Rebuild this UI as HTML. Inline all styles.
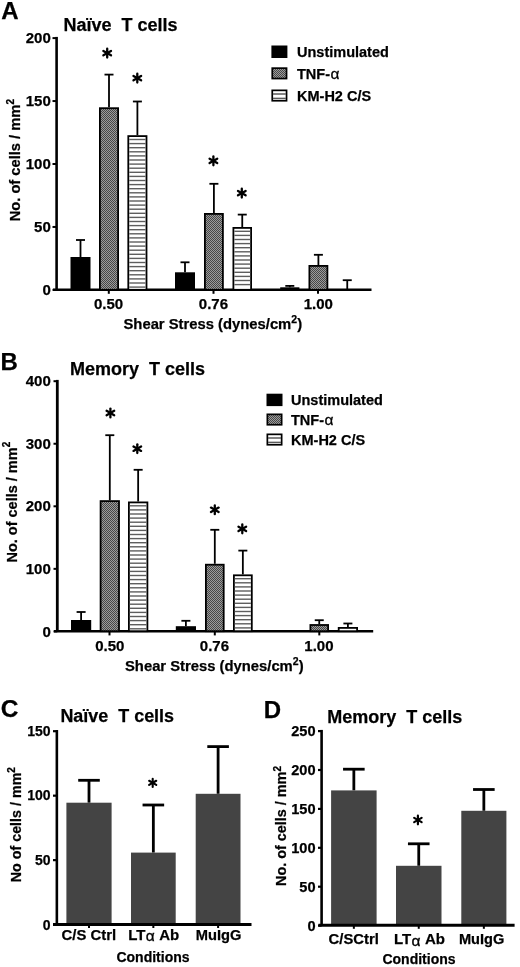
<!DOCTYPE html>
<html><head><meta charset="utf-8"><style>
html,body{margin:0;padding:0;background:#fff;width:520px;height:967px;overflow:hidden;}
body{position:relative;font-family:"Liberation Sans", sans-serif;}
</style></head><body>
<svg width="520" height="967" viewBox="0 0 520 967" style="position:absolute;left:0;top:0;filter:blur(0.3px)">
<defs>
<pattern id="hatch" patternUnits="userSpaceOnUse" width="2" height="2"><rect width="2" height="2" fill="#9c9c9c"/><rect width="1" height="1" fill="#474747"/><rect x="1" y="1" width="1" height="1" fill="#474747"/></pattern>
<pattern id="hatchL" patternUnits="userSpaceOnUse" width="2" height="2"><rect width="2" height="2" fill="#9c9c9c"/><rect width="1" height="1" fill="#474747"/><rect x="1" y="1" width="1" height="1" fill="#474747"/></pattern>
<pattern id="stripe" patternUnits="userSpaceOnUse" width="4" height="4.1" y="0.9"><rect width="4" height="4.1" fill="#fff"/><rect y="2.7" width="4" height="1.3" fill="#666"/></pattern>
<pattern id="stripeL" patternUnits="userSpaceOnUse" width="4" height="4" y="1"><rect width="4" height="4" fill="#fff"/><rect y="2.5" width="4" height="1.5" fill="#5a5a5a"/></pattern>
</defs>
<g font-family='"Liberation Sans", sans-serif' fill="#000">
<style>text{stroke:#000;stroke-width:0.25;stroke-linejoin:round}</style>
<text x="1.3" y="19" font-size="24" font-weight="bold" text-anchor="start" >A</text>
<text x="63.5" y="30.5" font-size="18" font-weight="bold" text-anchor="start" >Na&#239;ve&#160; T cells</text>
<line x1="56.6" y1="36.9" x2="56.6" y2="289.8" stroke="#000" stroke-width="2.6" stroke-linecap="butt"/>
<line x1="52.5" y1="289.9" x2="56.6" y2="289.9" stroke="#000" stroke-width="2" stroke-linecap="butt"/>
<text x="50.8" y="295.1" font-size="15" font-weight="bold" text-anchor="end" >0</text>
<line x1="52.5" y1="226.95" x2="56.6" y2="226.95" stroke="#000" stroke-width="2" stroke-linecap="butt"/>
<text x="50.8" y="232.02500000000003" font-size="15" font-weight="bold" text-anchor="end" >50</text>
<line x1="52.5" y1="163.99999999999997" x2="56.6" y2="163.99999999999997" stroke="#000" stroke-width="2" stroke-linecap="butt"/>
<text x="50.8" y="168.95000000000002" font-size="15" font-weight="bold" text-anchor="end" >100</text>
<line x1="52.5" y1="101.04999999999998" x2="56.6" y2="101.04999999999998" stroke="#000" stroke-width="2" stroke-linecap="butt"/>
<text x="50.8" y="105.87499999999999" font-size="15" font-weight="bold" text-anchor="end" >150</text>
<line x1="52.5" y1="38.099999999999966" x2="56.6" y2="38.099999999999966" stroke="#000" stroke-width="2" stroke-linecap="butt"/>
<text x="50.8" y="42.8" font-size="15" font-weight="bold" text-anchor="end" >200</text>
<line x1="53" y1="289.8" x2="371.5" y2="289.8" stroke="#000" stroke-width="2.6" stroke-linecap="butt"/>
<line x1="80.5" y1="240" x2="80.5" y2="257" stroke="#000" stroke-width="1.8" stroke-linecap="butt"/>
<line x1="76.0" y1="240" x2="85.0" y2="240" stroke="#000" stroke-width="1.8" stroke-linecap="butt"/>
<rect x="70.5" y="257" width="20.0" height="32.80000000000001" fill="#000"/>
<line x1="109.0" y1="74.6" x2="109.0" y2="107.3" stroke="#000" stroke-width="1.8" stroke-linecap="butt"/>
<line x1="104.5" y1="74.6" x2="113.5" y2="74.6" stroke="#000" stroke-width="1.8" stroke-linecap="butt"/>
<rect x="99.9" y="108.2" width="18.2" height="181.6" fill="url(#hatch)" stroke="#000" stroke-width="1.8"/>
<line x1="137.4" y1="101.5" x2="137.4" y2="135.2" stroke="#000" stroke-width="1.8" stroke-linecap="butt"/>
<line x1="132.9" y1="101.5" x2="141.9" y2="101.5" stroke="#000" stroke-width="1.8" stroke-linecap="butt"/>
<rect x="128.3" y="136.1" width="18.2" height="153.70000000000002" fill="#fff" stroke="#000" stroke-width="1.8"/>
<line x1="129.20000000000002" y1="139.5" x2="145.6" y2="139.5" stroke="#5e5e5e" stroke-width="1.4" stroke-linecap="butt"/>
<line x1="129.20000000000002" y1="143.6" x2="145.6" y2="143.6" stroke="#5e5e5e" stroke-width="1.4" stroke-linecap="butt"/>
<line x1="129.20000000000002" y1="147.7" x2="145.6" y2="147.7" stroke="#5e5e5e" stroke-width="1.4" stroke-linecap="butt"/>
<line x1="129.20000000000002" y1="151.8" x2="145.6" y2="151.8" stroke="#5e5e5e" stroke-width="1.4" stroke-linecap="butt"/>
<line x1="129.20000000000002" y1="155.9" x2="145.6" y2="155.9" stroke="#5e5e5e" stroke-width="1.4" stroke-linecap="butt"/>
<line x1="129.20000000000002" y1="160.0" x2="145.6" y2="160.0" stroke="#5e5e5e" stroke-width="1.4" stroke-linecap="butt"/>
<line x1="129.20000000000002" y1="164.1" x2="145.6" y2="164.1" stroke="#5e5e5e" stroke-width="1.4" stroke-linecap="butt"/>
<line x1="129.20000000000002" y1="168.2" x2="145.6" y2="168.2" stroke="#5e5e5e" stroke-width="1.4" stroke-linecap="butt"/>
<line x1="129.20000000000002" y1="172.3" x2="145.6" y2="172.3" stroke="#5e5e5e" stroke-width="1.4" stroke-linecap="butt"/>
<line x1="129.20000000000002" y1="176.4" x2="145.6" y2="176.4" stroke="#5e5e5e" stroke-width="1.4" stroke-linecap="butt"/>
<line x1="129.20000000000002" y1="180.5" x2="145.6" y2="180.5" stroke="#5e5e5e" stroke-width="1.4" stroke-linecap="butt"/>
<line x1="129.20000000000002" y1="184.6" x2="145.6" y2="184.6" stroke="#5e5e5e" stroke-width="1.4" stroke-linecap="butt"/>
<line x1="129.20000000000002" y1="188.7" x2="145.6" y2="188.7" stroke="#5e5e5e" stroke-width="1.4" stroke-linecap="butt"/>
<line x1="129.20000000000002" y1="192.8" x2="145.6" y2="192.8" stroke="#5e5e5e" stroke-width="1.4" stroke-linecap="butt"/>
<line x1="129.20000000000002" y1="196.9" x2="145.6" y2="196.9" stroke="#5e5e5e" stroke-width="1.4" stroke-linecap="butt"/>
<line x1="129.20000000000002" y1="201.0" x2="145.6" y2="201.0" stroke="#5e5e5e" stroke-width="1.4" stroke-linecap="butt"/>
<line x1="129.20000000000002" y1="205.1" x2="145.6" y2="205.1" stroke="#5e5e5e" stroke-width="1.4" stroke-linecap="butt"/>
<line x1="129.20000000000002" y1="209.2" x2="145.6" y2="209.2" stroke="#5e5e5e" stroke-width="1.4" stroke-linecap="butt"/>
<line x1="129.20000000000002" y1="213.3" x2="145.6" y2="213.3" stroke="#5e5e5e" stroke-width="1.4" stroke-linecap="butt"/>
<line x1="129.20000000000002" y1="217.4" x2="145.6" y2="217.4" stroke="#5e5e5e" stroke-width="1.4" stroke-linecap="butt"/>
<line x1="129.20000000000002" y1="221.5" x2="145.6" y2="221.5" stroke="#5e5e5e" stroke-width="1.4" stroke-linecap="butt"/>
<line x1="129.20000000000002" y1="225.6" x2="145.6" y2="225.6" stroke="#5e5e5e" stroke-width="1.4" stroke-linecap="butt"/>
<line x1="129.20000000000002" y1="229.7" x2="145.6" y2="229.7" stroke="#5e5e5e" stroke-width="1.4" stroke-linecap="butt"/>
<line x1="129.20000000000002" y1="233.8" x2="145.6" y2="233.8" stroke="#5e5e5e" stroke-width="1.4" stroke-linecap="butt"/>
<line x1="129.20000000000002" y1="237.9" x2="145.6" y2="237.9" stroke="#5e5e5e" stroke-width="1.4" stroke-linecap="butt"/>
<line x1="129.20000000000002" y1="242.0" x2="145.6" y2="242.0" stroke="#5e5e5e" stroke-width="1.4" stroke-linecap="butt"/>
<line x1="129.20000000000002" y1="246.1" x2="145.6" y2="246.1" stroke="#5e5e5e" stroke-width="1.4" stroke-linecap="butt"/>
<line x1="129.20000000000002" y1="250.2" x2="145.6" y2="250.2" stroke="#5e5e5e" stroke-width="1.4" stroke-linecap="butt"/>
<line x1="129.20000000000002" y1="254.3" x2="145.6" y2="254.3" stroke="#5e5e5e" stroke-width="1.4" stroke-linecap="butt"/>
<line x1="129.20000000000002" y1="258.4" x2="145.6" y2="258.4" stroke="#5e5e5e" stroke-width="1.4" stroke-linecap="butt"/>
<line x1="129.20000000000002" y1="262.5" x2="145.6" y2="262.5" stroke="#5e5e5e" stroke-width="1.4" stroke-linecap="butt"/>
<line x1="129.20000000000002" y1="266.6" x2="145.6" y2="266.6" stroke="#5e5e5e" stroke-width="1.4" stroke-linecap="butt"/>
<line x1="129.20000000000002" y1="270.7" x2="145.6" y2="270.7" stroke="#5e5e5e" stroke-width="1.4" stroke-linecap="butt"/>
<line x1="129.20000000000002" y1="274.8" x2="145.6" y2="274.8" stroke="#5e5e5e" stroke-width="1.4" stroke-linecap="butt"/>
<line x1="129.20000000000002" y1="278.9" x2="145.6" y2="278.9" stroke="#5e5e5e" stroke-width="1.4" stroke-linecap="butt"/>
<line x1="129.20000000000002" y1="283.0" x2="145.6" y2="283.0" stroke="#5e5e5e" stroke-width="1.4" stroke-linecap="butt"/>
<line x1="129.20000000000002" y1="287.1" x2="145.6" y2="287.1" stroke="#5e5e5e" stroke-width="1.4" stroke-linecap="butt"/>
<line x1="185.0" y1="262.3" x2="185.0" y2="272.3" stroke="#000" stroke-width="1.8" stroke-linecap="butt"/>
<line x1="180.5" y1="262.3" x2="189.5" y2="262.3" stroke="#000" stroke-width="1.8" stroke-linecap="butt"/>
<rect x="175" y="272.3" width="20" height="17.5" fill="#000"/>
<line x1="213.9" y1="183.8" x2="213.9" y2="213" stroke="#000" stroke-width="1.8" stroke-linecap="butt"/>
<line x1="209.4" y1="183.8" x2="218.4" y2="183.8" stroke="#000" stroke-width="1.8" stroke-linecap="butt"/>
<rect x="204.9" y="213.9" width="18.00000000000001" height="75.9" fill="url(#hatch)" stroke="#000" stroke-width="1.8"/>
<line x1="242.25" y1="214.6" x2="242.25" y2="227" stroke="#000" stroke-width="1.8" stroke-linecap="butt"/>
<line x1="237.75" y1="214.6" x2="246.75" y2="214.6" stroke="#000" stroke-width="1.8" stroke-linecap="butt"/>
<rect x="233.4" y="227.9" width="17.7" height="61.90000000000001" fill="#fff" stroke="#000" stroke-width="1.8"/>
<line x1="234.3" y1="231.3" x2="250.2" y2="231.3" stroke="#5e5e5e" stroke-width="1.4" stroke-linecap="butt"/>
<line x1="234.3" y1="235.4" x2="250.2" y2="235.4" stroke="#5e5e5e" stroke-width="1.4" stroke-linecap="butt"/>
<line x1="234.3" y1="239.5" x2="250.2" y2="239.5" stroke="#5e5e5e" stroke-width="1.4" stroke-linecap="butt"/>
<line x1="234.3" y1="243.6" x2="250.2" y2="243.6" stroke="#5e5e5e" stroke-width="1.4" stroke-linecap="butt"/>
<line x1="234.3" y1="247.7" x2="250.2" y2="247.7" stroke="#5e5e5e" stroke-width="1.4" stroke-linecap="butt"/>
<line x1="234.3" y1="251.8" x2="250.2" y2="251.8" stroke="#5e5e5e" stroke-width="1.4" stroke-linecap="butt"/>
<line x1="234.3" y1="255.9" x2="250.2" y2="255.9" stroke="#5e5e5e" stroke-width="1.4" stroke-linecap="butt"/>
<line x1="234.3" y1="260.0" x2="250.2" y2="260.0" stroke="#5e5e5e" stroke-width="1.4" stroke-linecap="butt"/>
<line x1="234.3" y1="264.1" x2="250.2" y2="264.1" stroke="#5e5e5e" stroke-width="1.4" stroke-linecap="butt"/>
<line x1="234.3" y1="268.2" x2="250.2" y2="268.2" stroke="#5e5e5e" stroke-width="1.4" stroke-linecap="butt"/>
<line x1="234.3" y1="272.3" x2="250.2" y2="272.3" stroke="#5e5e5e" stroke-width="1.4" stroke-linecap="butt"/>
<line x1="234.3" y1="276.4" x2="250.2" y2="276.4" stroke="#5e5e5e" stroke-width="1.4" stroke-linecap="butt"/>
<line x1="234.3" y1="280.5" x2="250.2" y2="280.5" stroke="#5e5e5e" stroke-width="1.4" stroke-linecap="butt"/>
<line x1="234.3" y1="284.6" x2="250.2" y2="284.6" stroke="#5e5e5e" stroke-width="1.4" stroke-linecap="butt"/>
<line x1="289.79999999999995" y1="285.9" x2="289.79999999999995" y2="287.3" stroke="#000" stroke-width="1.8" stroke-linecap="butt"/>
<line x1="285.29999999999995" y1="285.9" x2="294.29999999999995" y2="285.9" stroke="#000" stroke-width="1.8" stroke-linecap="butt"/>
<rect x="280.2" y="287.3" width="19.19999999999999" height="2.5" fill="#000"/>
<line x1="318.4" y1="254.8" x2="318.4" y2="265" stroke="#000" stroke-width="1.8" stroke-linecap="butt"/>
<line x1="313.9" y1="254.8" x2="322.9" y2="254.8" stroke="#000" stroke-width="1.8" stroke-linecap="butt"/>
<rect x="309.4" y="265.9" width="18.00000000000001" height="23.900000000000013" fill="url(#hatch)" stroke="#000" stroke-width="1.8"/>
<line x1="347.25" y1="280.2" x2="347.25" y2="289.8" stroke="#000" stroke-width="1.8" stroke-linecap="butt"/>
<line x1="342.75" y1="280.2" x2="351.75" y2="280.2" stroke="#000" stroke-width="1.8" stroke-linecap="butt"/>
<line x1="108.8" y1="289.8" x2="108.8" y2="293.8" stroke="#000" stroke-width="2" stroke-linecap="butt"/>
<line x1="213.5" y1="289.8" x2="213.5" y2="293.8" stroke="#000" stroke-width="2" stroke-linecap="butt"/>
<line x1="318" y1="289.8" x2="318" y2="293.8" stroke="#000" stroke-width="2" stroke-linecap="butt"/>
<text x="108.6" y="309.2" font-size="15" font-weight="bold" text-anchor="middle" >0.50</text>
<text x="213.4" y="309.2" font-size="15" font-weight="bold" text-anchor="middle" >0.76</text>
<text x="318.3" y="309.2" font-size="15" font-weight="bold" text-anchor="middle" >1.00</text>
<text x="123.5" y="328.8" font-size="14.8" font-weight="bold" text-anchor="start" >Shear Stress (dynes/cm<tspan font-size="10.5" dy="-6">2</tspan><tspan dy="6">)</tspan></text>
<text x="0" y="0" font-size="14.7" font-weight="bold" text-anchor="middle" transform="translate(19.6,160.2) rotate(-90)">No. of cells / mm<tspan font-size="10" dy="-5.5">2</tspan></text>
<line x1="107.2" y1="48.7" x2="107.2" y2="57.5" stroke="#000" stroke-width="2.3" stroke-linecap="round"/>
<line x1="103.39" y1="50.9" x2="111.01" y2="55.3" stroke="#000" stroke-width="2.3" stroke-linecap="round"/>
<line x1="111.01" y1="50.9" x2="103.39" y2="55.3" stroke="#000" stroke-width="2.3" stroke-linecap="round"/>
<line x1="137.3" y1="73.7" x2="137.3" y2="82.5" stroke="#000" stroke-width="2.3" stroke-linecap="round"/>
<line x1="133.49" y1="75.9" x2="141.11" y2="80.3" stroke="#000" stroke-width="2.3" stroke-linecap="round"/>
<line x1="141.11" y1="75.9" x2="133.49" y2="80.3" stroke="#000" stroke-width="2.3" stroke-linecap="round"/>
<line x1="213.4" y1="156.5" x2="213.4" y2="165.3" stroke="#000" stroke-width="2.3" stroke-linecap="round"/>
<line x1="209.59" y1="158.7" x2="217.21" y2="163.1" stroke="#000" stroke-width="2.3" stroke-linecap="round"/>
<line x1="217.21" y1="158.7" x2="209.59" y2="163.1" stroke="#000" stroke-width="2.3" stroke-linecap="round"/>
<line x1="241.8" y1="188.7" x2="241.8" y2="197.5" stroke="#000" stroke-width="2.3" stroke-linecap="round"/>
<line x1="237.99" y1="190.9" x2="245.61" y2="195.3" stroke="#000" stroke-width="2.3" stroke-linecap="round"/>
<line x1="245.61" y1="190.9" x2="237.99" y2="195.3" stroke="#000" stroke-width="2.3" stroke-linecap="round"/>
<rect x="271.4" y="45.5" width="16" height="12.5" fill="#000"/>
<text x="297" y="57.2" font-size="14.5" font-weight="bold" text-anchor="start" >Unstimulated</text>
<rect x="272.25" y="68.14999999999999" width="14.3" height="10.40000000000001" fill="url(#hatch)" stroke="#000" stroke-width="1.7"/>
<text x="297" y="78.7" font-size="14.5" font-weight="bold" text-anchor="start" >TNF-<tspan font-weight="normal" font-size="15.5" stroke="#000" stroke-width="0.3" dx="0.4">&#945;</tspan></text>
<rect x="272.25" y="90.35" width="14.3" height="10.399999999999995" fill="#fff" stroke="#000" stroke-width="1.7"/>
<line x1="272.9" y1="94.0" x2="285.9" y2="94.0" stroke="#5a5a5a" stroke-width="1.5" stroke-linecap="butt"/>
<line x1="272.9" y1="98.4" x2="285.9" y2="98.4" stroke="#5a5a5a" stroke-width="1.5" stroke-linecap="butt"/>
<text x="297" y="101" font-size="14.5" font-weight="bold" text-anchor="start" >KM-H2 C/S</text>
<text x="0.5" y="370.4" font-size="24" font-weight="bold" text-anchor="start" >B</text>
<text x="70" y="374.6" font-size="18" font-weight="bold" text-anchor="start" >Memory&#160; T cells</text>
<line x1="57.3" y1="379.9" x2="57.3" y2="631.2" stroke="#000" stroke-width="2.8" stroke-linecap="butt"/>
<line x1="53.5" y1="631.4" x2="57.3" y2="631.4" stroke="#000" stroke-width="2" stroke-linecap="butt"/>
<text x="50.8" y="636.7" font-size="15" font-weight="bold" text-anchor="end" >0</text>
<line x1="53.5" y1="568.85" x2="57.3" y2="568.85" stroke="#000" stroke-width="2" stroke-linecap="butt"/>
<text x="50.8" y="574.0250000000001" font-size="15" font-weight="bold" text-anchor="end" >100</text>
<line x1="53.5" y1="506.29999999999995" x2="57.3" y2="506.29999999999995" stroke="#000" stroke-width="2" stroke-linecap="butt"/>
<text x="50.8" y="511.35" font-size="15" font-weight="bold" text-anchor="end" >200</text>
<line x1="53.5" y1="443.75" x2="57.3" y2="443.75" stroke="#000" stroke-width="2" stroke-linecap="butt"/>
<text x="50.8" y="448.675" font-size="15" font-weight="bold" text-anchor="end" >300</text>
<line x1="53.5" y1="381.2" x2="57.3" y2="381.2" stroke="#000" stroke-width="2" stroke-linecap="butt"/>
<text x="50.8" y="386.0" font-size="15" font-weight="bold" text-anchor="end" >400</text>
<line x1="54" y1="631.2" x2="373.2" y2="631.2" stroke="#000" stroke-width="2.6" stroke-linecap="butt"/>
<line x1="81.1" y1="612" x2="81.1" y2="620" stroke="#000" stroke-width="1.8" stroke-linecap="butt"/>
<line x1="76.6" y1="612" x2="85.6" y2="612" stroke="#000" stroke-width="1.8" stroke-linecap="butt"/>
<rect x="71" y="620" width="20.200000000000003" height="11.200000000000045" fill="#000"/>
<line x1="109.80000000000001" y1="435.2" x2="109.80000000000001" y2="500.2" stroke="#000" stroke-width="1.8" stroke-linecap="butt"/>
<line x1="105.30000000000001" y1="435.2" x2="114.30000000000001" y2="435.2" stroke="#000" stroke-width="1.8" stroke-linecap="butt"/>
<rect x="100.60000000000001" y="501.09999999999997" width="18.400000000000002" height="130.10000000000005" fill="url(#hatch)" stroke="#000" stroke-width="1.8"/>
<line x1="138.15" y1="469.8" x2="138.15" y2="501.5" stroke="#000" stroke-width="1.8" stroke-linecap="butt"/>
<line x1="133.65" y1="469.8" x2="142.65" y2="469.8" stroke="#000" stroke-width="1.8" stroke-linecap="butt"/>
<rect x="128.9" y="502.4" width="18.50000000000001" height="128.80000000000004" fill="#fff" stroke="#000" stroke-width="1.8"/>
<line x1="129.8" y1="505.8" x2="146.5" y2="505.8" stroke="#5e5e5e" stroke-width="1.4" stroke-linecap="butt"/>
<line x1="129.8" y1="509.9" x2="146.5" y2="509.9" stroke="#5e5e5e" stroke-width="1.4" stroke-linecap="butt"/>
<line x1="129.8" y1="514.0" x2="146.5" y2="514.0" stroke="#5e5e5e" stroke-width="1.4" stroke-linecap="butt"/>
<line x1="129.8" y1="518.1" x2="146.5" y2="518.1" stroke="#5e5e5e" stroke-width="1.4" stroke-linecap="butt"/>
<line x1="129.8" y1="522.2" x2="146.5" y2="522.2" stroke="#5e5e5e" stroke-width="1.4" stroke-linecap="butt"/>
<line x1="129.8" y1="526.3" x2="146.5" y2="526.3" stroke="#5e5e5e" stroke-width="1.4" stroke-linecap="butt"/>
<line x1="129.8" y1="530.4" x2="146.5" y2="530.4" stroke="#5e5e5e" stroke-width="1.4" stroke-linecap="butt"/>
<line x1="129.8" y1="534.5" x2="146.5" y2="534.5" stroke="#5e5e5e" stroke-width="1.4" stroke-linecap="butt"/>
<line x1="129.8" y1="538.6" x2="146.5" y2="538.6" stroke="#5e5e5e" stroke-width="1.4" stroke-linecap="butt"/>
<line x1="129.8" y1="542.7" x2="146.5" y2="542.7" stroke="#5e5e5e" stroke-width="1.4" stroke-linecap="butt"/>
<line x1="129.8" y1="546.8" x2="146.5" y2="546.8" stroke="#5e5e5e" stroke-width="1.4" stroke-linecap="butt"/>
<line x1="129.8" y1="550.9" x2="146.5" y2="550.9" stroke="#5e5e5e" stroke-width="1.4" stroke-linecap="butt"/>
<line x1="129.8" y1="555.0" x2="146.5" y2="555.0" stroke="#5e5e5e" stroke-width="1.4" stroke-linecap="butt"/>
<line x1="129.8" y1="559.1" x2="146.5" y2="559.1" stroke="#5e5e5e" stroke-width="1.4" stroke-linecap="butt"/>
<line x1="129.8" y1="563.2" x2="146.5" y2="563.2" stroke="#5e5e5e" stroke-width="1.4" stroke-linecap="butt"/>
<line x1="129.8" y1="567.3" x2="146.5" y2="567.3" stroke="#5e5e5e" stroke-width="1.4" stroke-linecap="butt"/>
<line x1="129.8" y1="571.4" x2="146.5" y2="571.4" stroke="#5e5e5e" stroke-width="1.4" stroke-linecap="butt"/>
<line x1="129.8" y1="575.5" x2="146.5" y2="575.5" stroke="#5e5e5e" stroke-width="1.4" stroke-linecap="butt"/>
<line x1="129.8" y1="579.6" x2="146.5" y2="579.6" stroke="#5e5e5e" stroke-width="1.4" stroke-linecap="butt"/>
<line x1="129.8" y1="583.7" x2="146.5" y2="583.7" stroke="#5e5e5e" stroke-width="1.4" stroke-linecap="butt"/>
<line x1="129.8" y1="587.8" x2="146.5" y2="587.8" stroke="#5e5e5e" stroke-width="1.4" stroke-linecap="butt"/>
<line x1="129.8" y1="591.9" x2="146.5" y2="591.9" stroke="#5e5e5e" stroke-width="1.4" stroke-linecap="butt"/>
<line x1="129.8" y1="596.0" x2="146.5" y2="596.0" stroke="#5e5e5e" stroke-width="1.4" stroke-linecap="butt"/>
<line x1="129.8" y1="600.1" x2="146.5" y2="600.1" stroke="#5e5e5e" stroke-width="1.4" stroke-linecap="butt"/>
<line x1="129.8" y1="604.2" x2="146.5" y2="604.2" stroke="#5e5e5e" stroke-width="1.4" stroke-linecap="butt"/>
<line x1="129.8" y1="608.3" x2="146.5" y2="608.3" stroke="#5e5e5e" stroke-width="1.4" stroke-linecap="butt"/>
<line x1="129.8" y1="612.4" x2="146.5" y2="612.4" stroke="#5e5e5e" stroke-width="1.4" stroke-linecap="butt"/>
<line x1="129.8" y1="616.5" x2="146.5" y2="616.5" stroke="#5e5e5e" stroke-width="1.4" stroke-linecap="butt"/>
<line x1="129.8" y1="620.6" x2="146.5" y2="620.6" stroke="#5e5e5e" stroke-width="1.4" stroke-linecap="butt"/>
<line x1="129.8" y1="624.7" x2="146.5" y2="624.7" stroke="#5e5e5e" stroke-width="1.4" stroke-linecap="butt"/>
<line x1="129.8" y1="628.8" x2="146.5" y2="628.8" stroke="#5e5e5e" stroke-width="1.4" stroke-linecap="butt"/>
<line x1="185.9" y1="620.8" x2="185.9" y2="626.2" stroke="#000" stroke-width="1.8" stroke-linecap="butt"/>
<line x1="181.4" y1="620.8" x2="190.4" y2="620.8" stroke="#000" stroke-width="1.8" stroke-linecap="butt"/>
<rect x="175.8" y="626.2" width="20.19999999999999" height="5.0" fill="#000"/>
<line x1="214.8" y1="529.8" x2="214.8" y2="563.8" stroke="#000" stroke-width="1.8" stroke-linecap="butt"/>
<line x1="210.3" y1="529.8" x2="219.3" y2="529.8" stroke="#000" stroke-width="1.8" stroke-linecap="butt"/>
<rect x="205.9" y="564.6999999999999" width="17.799999999999994" height="66.50000000000009" fill="url(#hatch)" stroke="#000" stroke-width="1.8"/>
<line x1="242.85" y1="550.6" x2="242.85" y2="574.4" stroke="#000" stroke-width="1.8" stroke-linecap="butt"/>
<line x1="238.35" y1="550.6" x2="247.35" y2="550.6" stroke="#000" stroke-width="1.8" stroke-linecap="butt"/>
<rect x="233.9" y="575.3" width="17.899999999999988" height="55.90000000000007" fill="#fff" stroke="#000" stroke-width="1.8"/>
<line x1="234.8" y1="578.7" x2="250.89999999999998" y2="578.7" stroke="#5e5e5e" stroke-width="1.4" stroke-linecap="butt"/>
<line x1="234.8" y1="582.8" x2="250.89999999999998" y2="582.8" stroke="#5e5e5e" stroke-width="1.4" stroke-linecap="butt"/>
<line x1="234.8" y1="586.9" x2="250.89999999999998" y2="586.9" stroke="#5e5e5e" stroke-width="1.4" stroke-linecap="butt"/>
<line x1="234.8" y1="591.0" x2="250.89999999999998" y2="591.0" stroke="#5e5e5e" stroke-width="1.4" stroke-linecap="butt"/>
<line x1="234.8" y1="595.1" x2="250.89999999999998" y2="595.1" stroke="#5e5e5e" stroke-width="1.4" stroke-linecap="butt"/>
<line x1="234.8" y1="599.2" x2="250.89999999999998" y2="599.2" stroke="#5e5e5e" stroke-width="1.4" stroke-linecap="butt"/>
<line x1="234.8" y1="603.3" x2="250.89999999999998" y2="603.3" stroke="#5e5e5e" stroke-width="1.4" stroke-linecap="butt"/>
<line x1="234.8" y1="607.4" x2="250.89999999999998" y2="607.4" stroke="#5e5e5e" stroke-width="1.4" stroke-linecap="butt"/>
<line x1="234.8" y1="611.5" x2="250.89999999999998" y2="611.5" stroke="#5e5e5e" stroke-width="1.4" stroke-linecap="butt"/>
<line x1="234.8" y1="615.6" x2="250.89999999999998" y2="615.6" stroke="#5e5e5e" stroke-width="1.4" stroke-linecap="butt"/>
<line x1="234.8" y1="619.7" x2="250.89999999999998" y2="619.7" stroke="#5e5e5e" stroke-width="1.4" stroke-linecap="butt"/>
<line x1="234.8" y1="623.8" x2="250.89999999999998" y2="623.8" stroke="#5e5e5e" stroke-width="1.4" stroke-linecap="butt"/>
<line x1="234.8" y1="627.9" x2="250.89999999999998" y2="627.9" stroke="#5e5e5e" stroke-width="1.4" stroke-linecap="butt"/>
<line x1="319.25" y1="620.2" x2="319.25" y2="624.1" stroke="#000" stroke-width="1.8" stroke-linecap="butt"/>
<line x1="314.75" y1="620.2" x2="323.75" y2="620.2" stroke="#000" stroke-width="1.8" stroke-linecap="butt"/>
<rect x="310.4" y="625.0" width="17.7" height="6.200000000000022" fill="url(#hatch)" stroke="#000" stroke-width="1.8"/>
<line x1="347.9" y1="623.5" x2="347.9" y2="627" stroke="#000" stroke-width="1.8" stroke-linecap="butt"/>
<line x1="343.4" y1="623.5" x2="352.4" y2="623.5" stroke="#000" stroke-width="1.8" stroke-linecap="butt"/>
<rect x="338.7" y="627.9" width="18.399999999999988" height="3.3000000000000456" fill="#fff" stroke="#000" stroke-width="1.8"/>
<line x1="109.5" y1="631.2" x2="109.5" y2="635.4000000000001" stroke="#000" stroke-width="2" stroke-linecap="butt"/>
<line x1="214.8" y1="631.2" x2="214.8" y2="635.4000000000001" stroke="#000" stroke-width="2" stroke-linecap="butt"/>
<line x1="319.3" y1="631.2" x2="319.3" y2="635.4000000000001" stroke="#000" stroke-width="2" stroke-linecap="butt"/>
<text x="109.8" y="650.8" font-size="15" font-weight="bold" text-anchor="middle" >0.50</text>
<text x="214.4" y="650.8" font-size="15" font-weight="bold" text-anchor="middle" >0.76</text>
<text x="318.9" y="650.8" font-size="15" font-weight="bold" text-anchor="middle" >1.00</text>
<text x="125" y="670.9" font-size="14.8" font-weight="bold" text-anchor="start" >Shear Stress (dynes/cm<tspan font-size="10.5" dy="-6">2</tspan><tspan dy="6">)</tspan></text>
<text x="0" y="0" font-size="14.5" font-weight="bold" text-anchor="middle" transform="translate(16.9,502.2) rotate(-90)">No. of cells / mm<tspan font-size="10" dy="-6.5">2</tspan></text>
<line x1="110.4" y1="408.6" x2="110.4" y2="417.4" stroke="#000" stroke-width="2.3" stroke-linecap="round"/>
<line x1="106.59" y1="410.8" x2="114.21" y2="415.2" stroke="#000" stroke-width="2.3" stroke-linecap="round"/>
<line x1="114.21" y1="410.8" x2="106.59" y2="415.2" stroke="#000" stroke-width="2.3" stroke-linecap="round"/>
<line x1="137.3" y1="444.3" x2="137.3" y2="453.1" stroke="#000" stroke-width="2.3" stroke-linecap="round"/>
<line x1="133.49" y1="446.5" x2="141.11" y2="450.9" stroke="#000" stroke-width="2.3" stroke-linecap="round"/>
<line x1="141.11" y1="446.5" x2="133.49" y2="450.9" stroke="#000" stroke-width="2.3" stroke-linecap="round"/>
<line x1="214.8" y1="505.4" x2="214.8" y2="514.2" stroke="#000" stroke-width="2.3" stroke-linecap="round"/>
<line x1="210.99" y1="507.6" x2="218.61" y2="512.0" stroke="#000" stroke-width="2.3" stroke-linecap="round"/>
<line x1="218.61" y1="507.6" x2="210.99" y2="512.0" stroke="#000" stroke-width="2.3" stroke-linecap="round"/>
<line x1="242.3" y1="524.5" x2="242.3" y2="533.3" stroke="#000" stroke-width="2.3" stroke-linecap="round"/>
<line x1="238.49" y1="526.7" x2="246.11" y2="531.1" stroke="#000" stroke-width="2.3" stroke-linecap="round"/>
<line x1="246.11" y1="526.7" x2="238.49" y2="531.1" stroke="#000" stroke-width="2.3" stroke-linecap="round"/>
<rect x="266.5" y="393.7" width="16" height="12.400000000000034" fill="#000"/>
<text x="291" y="405.2" font-size="14.5" font-weight="bold" text-anchor="start" >Unstimulated</text>
<rect x="267.35" y="414.35" width="14.3" height="10.400000000000023" fill="url(#hatch)" stroke="#000" stroke-width="1.7"/>
<text x="291" y="425.1" font-size="14.5" font-weight="bold" text-anchor="start" >TNF-<tspan font-weight="normal" font-size="15.5" stroke="#000" stroke-width="0.3" dx="0.4">&#945;</tspan></text>
<rect x="267.35" y="434.35" width="14.3" height="10.400000000000023" fill="#fff" stroke="#000" stroke-width="1.7"/>
<line x1="268.0" y1="438.0" x2="281.0" y2="438.0" stroke="#5a5a5a" stroke-width="1.5" stroke-linecap="butt"/>
<line x1="268.0" y1="442.4" x2="281.0" y2="442.4" stroke="#5a5a5a" stroke-width="1.5" stroke-linecap="butt"/>
<text x="291" y="444.9" font-size="14.5" font-weight="bold" text-anchor="start" >KM-H2 C/S</text>
<text x="0.8" y="717.4" font-size="24.5" font-weight="bold" text-anchor="start" >C</text>
<text x="60.4" y="721.5" font-size="17.95" font-weight="bold" text-anchor="start" >Na&#239;ve&#160; T cells</text>
<line x1="56.85" y1="730.0" x2="56.85" y2="924.5" stroke="#000" stroke-width="2.6" stroke-linecap="butt"/>
<line x1="53" y1="924.6" x2="56.85" y2="924.6" stroke="#000" stroke-width="2.2" stroke-linecap="butt"/>
<text x="50.5" y="929.5" font-size="14" font-weight="bold" text-anchor="end" >0</text>
<line x1="53" y1="860.1333333333333" x2="56.85" y2="860.1333333333333" stroke="#000" stroke-width="2.2" stroke-linecap="butt"/>
<text x="50.5" y="864.8333333333334" font-size="14" font-weight="bold" text-anchor="end" >50</text>
<line x1="53" y1="795.6666666666667" x2="56.85" y2="795.6666666666667" stroke="#000" stroke-width="2.2" stroke-linecap="butt"/>
<text x="50.5" y="800.1666666666667" font-size="14" font-weight="bold" text-anchor="end" >100</text>
<line x1="53" y1="731.2" x2="56.85" y2="731.2" stroke="#000" stroke-width="2.2" stroke-linecap="butt"/>
<text x="50.5" y="735.5" font-size="14" font-weight="bold" text-anchor="end" >150</text>
<line x1="89.0" y1="780.3" x2="89.0" y2="802.7" stroke="#000" stroke-width="2.8" stroke-linecap="butt"/>
<line x1="78.2" y1="780.3" x2="99.8" y2="780.3" stroke="#000" stroke-width="2.8" stroke-linecap="butt"/>
<rect x="66.4" y="802.7" width="45.19999999999999" height="121.79999999999995" fill="#444"/>
<line x1="89.0" y1="924.5" x2="89.0" y2="928.0" stroke="#000" stroke-width="2" stroke-linecap="butt"/>
<line x1="153.35" y1="805" x2="153.35" y2="852.6" stroke="#000" stroke-width="2.8" stroke-linecap="butt"/>
<line x1="142.54999999999998" y1="805" x2="164.15" y2="805" stroke="#000" stroke-width="2.8" stroke-linecap="butt"/>
<rect x="131" y="852.6" width="44.69999999999999" height="71.89999999999998" fill="#444"/>
<line x1="153.35" y1="924.5" x2="153.35" y2="928.0" stroke="#000" stroke-width="2" stroke-linecap="butt"/>
<line x1="218.1" y1="746.6" x2="218.1" y2="793.8" stroke="#000" stroke-width="2.8" stroke-linecap="butt"/>
<line x1="207.29999999999998" y1="746.6" x2="228.9" y2="746.6" stroke="#000" stroke-width="2.8" stroke-linecap="butt"/>
<rect x="195.7" y="793.8" width="44.80000000000001" height="130.70000000000005" fill="#444"/>
<line x1="218.1" y1="924.5" x2="218.1" y2="928.0" stroke="#000" stroke-width="2" stroke-linecap="butt"/>
<line x1="53" y1="924.5" x2="251.5" y2="924.5" stroke="#000" stroke-width="3" stroke-linecap="butt"/>
<line x1="152.7" y1="778.7" x2="152.7" y2="786.9" stroke="#000" stroke-width="2.1" stroke-linecap="round"/>
<line x1="149.15" y1="780.75" x2="156.25" y2="784.85" stroke="#000" stroke-width="2.1" stroke-linecap="round"/>
<line x1="156.25" y1="780.75" x2="149.15" y2="784.85" stroke="#000" stroke-width="2.1" stroke-linecap="round"/>
<text x="88.8" y="939.5" font-size="14.9" font-weight="bold" text-anchor="middle" >C/S Ctrl</text>
<text x="128.3" y="939.5" font-size="15" font-weight="bold" text-anchor="start" >LT<tspan font-weight="normal" font-size="15.5" stroke="#000" stroke-width="0.35" dy="1.6" dx="0.3">&#945;</tspan><tspan dy="-1.6" dx="0.3"> Ab</tspan></text>
<text x="218.6" y="939.5" font-size="14.7" font-weight="bold" text-anchor="middle" >MuIgG</text>
<text x="153" y="962" font-size="14" font-weight="bold" text-anchor="middle" >Conditions</text>
<text x="0" y="0" font-size="14.3" font-weight="bold" text-anchor="middle" transform="translate(20.6,824.7) rotate(-90)">No of cells / mm<tspan font-size="10" dy="-5.8">2</tspan></text>
<text x="263.8" y="717.7" font-size="24" font-weight="bold" text-anchor="start" >D</text>
<text x="327.3" y="722.5" font-size="18" font-weight="bold" text-anchor="start" >Memory&#160; T cells</text>
<line x1="321.6" y1="729.9" x2="321.6" y2="925.3" stroke="#000" stroke-width="2.6" stroke-linecap="butt"/>
<line x1="318" y1="925.6" x2="321.6" y2="925.6" stroke="#000" stroke-width="2.2" stroke-linecap="butt"/>
<text x="315.6" y="930.9" font-size="14.6" font-weight="bold" text-anchor="end" >0</text>
<line x1="318" y1="886.7" x2="321.6" y2="886.7" stroke="#000" stroke-width="2.2" stroke-linecap="butt"/>
<text x="315.6" y="891.9" font-size="14.6" font-weight="bold" text-anchor="end" >50</text>
<line x1="318" y1="847.8000000000001" x2="321.6" y2="847.8000000000001" stroke="#000" stroke-width="2.2" stroke-linecap="butt"/>
<text x="315.6" y="852.9" font-size="14.6" font-weight="bold" text-anchor="end" >100</text>
<line x1="318" y1="808.9" x2="321.6" y2="808.9" stroke="#000" stroke-width="2.2" stroke-linecap="butt"/>
<text x="315.6" y="813.9" font-size="14.6" font-weight="bold" text-anchor="end" >150</text>
<line x1="318" y1="770.0" x2="321.6" y2="770.0" stroke="#000" stroke-width="2.2" stroke-linecap="butt"/>
<text x="315.6" y="774.9" font-size="14.6" font-weight="bold" text-anchor="end" >200</text>
<line x1="318" y1="731.1" x2="321.6" y2="731.1" stroke="#000" stroke-width="2.2" stroke-linecap="butt"/>
<text x="315.6" y="735.9" font-size="14.6" font-weight="bold" text-anchor="end" >250</text>
<line x1="353.85" y1="769.2" x2="353.85" y2="790.4" stroke="#000" stroke-width="2.8" stroke-linecap="butt"/>
<line x1="343.05" y1="769.2" x2="364.65000000000003" y2="769.2" stroke="#000" stroke-width="2.8" stroke-linecap="butt"/>
<rect x="331.1" y="790.4" width="45.5" height="134.89999999999998" fill="#444"/>
<line x1="353.85" y1="925.3" x2="353.85" y2="928.8" stroke="#000" stroke-width="2" stroke-linecap="butt"/>
<line x1="418.75" y1="843.8" x2="418.75" y2="865.8" stroke="#000" stroke-width="2.8" stroke-linecap="butt"/>
<line x1="407.95" y1="843.8" x2="429.55" y2="843.8" stroke="#000" stroke-width="2.8" stroke-linecap="butt"/>
<rect x="396" y="865.8" width="45.5" height="59.5" fill="#444"/>
<line x1="418.75" y1="925.3" x2="418.75" y2="928.8" stroke="#000" stroke-width="2" stroke-linecap="butt"/>
<line x1="483.85" y1="789.5" x2="483.85" y2="810.8" stroke="#000" stroke-width="2.8" stroke-linecap="butt"/>
<line x1="473.05" y1="789.5" x2="494.65000000000003" y2="789.5" stroke="#000" stroke-width="2.8" stroke-linecap="butt"/>
<rect x="461.3" y="810.8" width="45.099999999999966" height="114.5" fill="#444"/>
<line x1="483.85" y1="925.3" x2="483.85" y2="928.8" stroke="#000" stroke-width="2" stroke-linecap="butt"/>
<line x1="318.5" y1="925.3" x2="514.6" y2="925.3" stroke="#000" stroke-width="3" stroke-linecap="butt"/>
<line x1="417.9" y1="815.7" x2="417.9" y2="824.3" stroke="#000" stroke-width="2.2" stroke-linecap="round"/>
<line x1="414.18" y1="817.85" x2="421.62" y2="822.15" stroke="#000" stroke-width="2.2" stroke-linecap="round"/>
<line x1="421.62" y1="817.85" x2="414.18" y2="822.15" stroke="#000" stroke-width="2.2" stroke-linecap="round"/>
<text x="353.7" y="943.8" font-size="14.8" font-weight="bold" text-anchor="middle" >C/SCtrl</text>
<text x="394" y="944" font-size="15" font-weight="bold" text-anchor="start" >LT<tspan font-weight="normal" font-size="15.5" stroke="#000" stroke-width="0.35" dy="1.6" dx="0.3">&#945;</tspan><tspan dy="-1.6" dx="0.3"> Ab</tspan></text>
<text x="481.6" y="943.8" font-size="14.6" font-weight="bold" text-anchor="middle" >MuIgG</text>
<text x="419" y="963.8" font-size="14" font-weight="bold" text-anchor="middle" >Conditions</text>
<text x="0" y="0" font-size="14.4" font-weight="bold" text-anchor="middle" transform="translate(286,826) rotate(-90)">No. of cells / mm<tspan font-size="10" dy="-5.5">2</tspan></text>
</g></svg>
</body></html>
